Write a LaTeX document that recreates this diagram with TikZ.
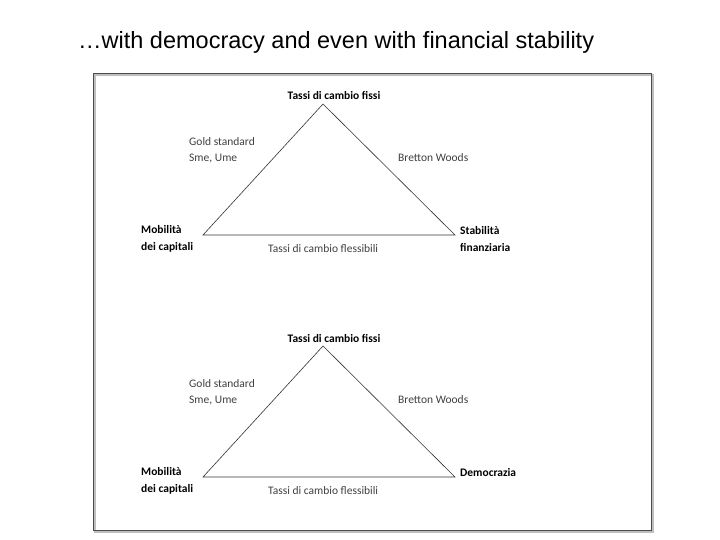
\documentclass[tikz,border=0pt]{standalone}
\usepackage{fontspec}
\setmainfont{Carlito}
\newfontfamily\titlefont{Liberation Sans}
\begin{document}
\begin{tikzpicture}[x=1pt,y=-1pt,
  lbl/.style={font=\fontsize{11.5}{15.5}\selectfont,text=black!75,inner sep=0pt},
  blbl/.style={font=\fontsize{11.5}{17.5}\selectfont\bfseries,inner sep=0pt,align=left},
  edge/.style={draw=black!80,line width=0.6pt}]
\useasboundingbox (0,0) rectangle (720,540);
\fill[white] (0,0) rectangle (720,540);
\node[font=\titlefont\fontsize{23.5}{26}\selectfont,anchor=west,inner sep=0pt] (title) at (78,42) {\ldots with democracy and even with financial stability};
\draw[black!25,line width=1.5pt] (95,75) rectangle (653,532);
\draw[black!70,line width=0.7pt] (93,73) rectangle (651,530);
\foreach \dy/\rlab/\ry in {0/{Stabilità\\finanziaria}/239,242/{Democrazia}/231}{
  \begin{scope}[yshift=-\dy]
  \coordinate (A) at (323,104);
  \coordinate (L) at (203,235);
  \coordinate (R) at (455,235);
  \draw[edge] (A) -- (L) -- (R) -- cycle;
  \node[blbl,anchor=center] (top) at (334,96) {Tassi di cambio fissi};
  \node[lbl,align=left,anchor=west] (gold) at (189,150) {Gold standard\\Sme, Ume};
  \node[lbl,anchor=west] (bw) at (398,158) {Bretton Woods};
  \node[blbl,anchor=west] (ml) at (141,239) {Mobilità\\dei capitali};
  \node[blbl,anchor=west] (mr) at (460,\ry) {\rlab};
  \node[lbl,anchor=west] (fl) at (268,249) {Tassi di cambio flessibili};
  \end{scope}
}
\end{tikzpicture}
\end{document}
